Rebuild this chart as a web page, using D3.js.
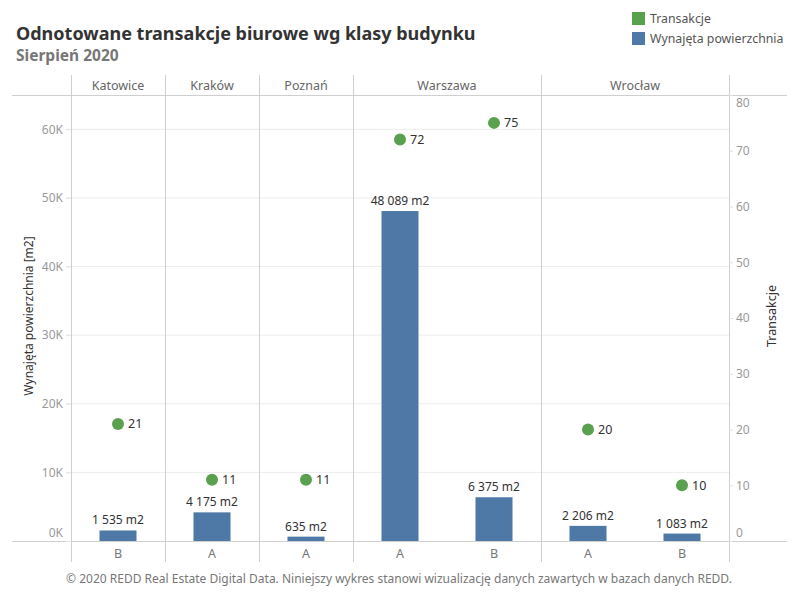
<!DOCTYPE html>
<html>
<head>
<meta charset="utf-8">
<script src="https://cdn.jsdelivr.net/npm/d3@7"></script>
<style>
body{margin:0;background:#fff;}
svg text{font-family:"Noto Sans",sans-serif;}
</style>
</head>
<body>
<svg id="chart" width="800" height="600"></svg>
<script>
// dane
var cities = ["Katowice", "Kraków", "Poznań", "Warszawa", "Wrocław"]
var rowCity = ["Katowice", "Kraków", "Poznań", "Warszawa", "Warszawa", "Wrocław", "Wrocław"]
var rowClass = ["B", "A", "A", "A", "B", "A", "B"]
var area = [1535, 4175, 635, 48089, 6375, 2206, 1083]
var transactions = [21, 11, 11, 72, 75, 20, 10]
var leftTicks = [0, 10000, 20000, 30000, 40000, 50000, 60000]
var rightTicks = [0, 10, 20, 30, 40, 50, 60, 70, 80]

var rows = rowCity.map(function(c, i){
    return {key: c + "|" + rowClass[i], city: c, cls: rowClass[i], area: area[i], tr: transactions[i]}
})

var svg = d3.select("svg#chart")
var top_ = 95, bottom = 541, left = 71, right = 729

var x = d3.scaleBand().domain(rows.map(function(d){ return d.key; })).range([left, right])
var yL = d3.scaleLinear().domain([0, 65000]).range([bottom, top_])
var yR = d3.scaleLinear().domain([0, 80]).range([bottom, top_])

var loc = d3.formatLocale({decimal: ",", thousands: "\u00a0", grouping: [3], currency: ["", ""]})
var fmt = loc.format(",d")

// tytuł
svg.append("text").attr("x", 16).attr("y", 40)
    .attr("font-size", 18).attr("font-weight", "bold").attr("fill", "#333")
    .text("Odnotowane transakcje biurowe wg klasy budynku")
svg.append("text").attr("x", 16).attr("y", 61)
    .attr("font-size", 15.5).attr("font-weight", "bold").attr("fill", "#777")
    .text("Sierpień 2020")

// legenda
var legend = [["Transakcje", "#59a14f"], ["Wynajęta powierzchnia", "#4e79a7"]]
legend.forEach(function(l, i){
    svg.append("rect").attr("x", 632).attr("y", 12 + i*20).attr("width", 13).attr("height", 13).attr("fill", l[1])
    svg.append("text").attr("x", 650).attr("y", 23 + i*20).attr("font-size", 12.3).attr("fill", "#555").text(l[0])
})

// siatka
svg.selectAll("line.grid").data(leftTicks.slice(1)).enter().append("line")
    .attr("class", "grid")
    .attr("x1", 66).attr("x2", right)
    .attr("y1", function(d){ return yL(d); }).attr("y2", function(d){ return yL(d); })
    .attr("stroke", "#ececec").attr("stroke-width", 1)

// nagłówki miast
var cityRange = cities.map(function(c){
    var ks = rows.filter(function(r){ return r.city == c; })
    return {city: c, x0: x(ks[0].key), x1: x(ks[ks.length-1].key) + x.bandwidth()}
})
svg.selectAll("text.city").data(cityRange).enter().append("text")
    .attr("class", "city")
    .attr("x", function(d){ return (d.x0 + d.x1)/2; }).attr("y", 90)
    .attr("text-anchor", "middle").attr("font-size", 12.5).attr("fill", "#666")
    .text(function(d){ return d.city; })

var seps = [left].concat(cityRange.map(function(d){ return d.x1; }))
svg.selectAll("line.sep").data(seps).enter().append("line")
    .attr("class", "sep")
    .attr("x1", function(d){ return Math.round(d) + 0.5; }).attr("x2", function(d){ return Math.round(d) + 0.5; })
    .attr("y1", 75).attr("y2", 562)
    .attr("stroke", "#cfcfcf")

svg.append("line").attr("x1", 12).attr("x2", 787).attr("y1", top_ + 0.5).attr("y2", top_ + 0.5).attr("stroke", "#cfcfcf")
svg.append("line").attr("x1", 12).attr("x2", 787).attr("y1", bottom + 0.5).attr("y2", bottom + 0.5).attr("stroke", "#cfcfcf")

// słupki
var bw = 37
svg.selectAll("rect.bar").data(rows).enter().append("rect")
    .attr("class", "bar")
    .attr("x", function(d){ return x(d.key) + x.bandwidth()/2 - bw/2; })
    .attr("y", function(d){ return yL(d.area); })
    .attr("width", bw)
    .attr("height", function(d){ return bottom - yL(d.area); })
    .attr("fill", "#4e79a7")

svg.selectAll("text.barlabel").data(rows).enter().append("text")
    .attr("class", "barlabel")
    .attr("x", function(d){ return x(d.key) + x.bandwidth()/2; })
    .attr("y", function(d){ return yL(d.area) - 6; })
    .attr("text-anchor", "middle").attr("font-size", 12).attr("fill", "#333")
    .text(function(d){ return fmt(d.area) + " m2"; })

// punkty
svg.selectAll("circle.dot").data(rows).enter().append("circle")
    .attr("class", "dot")
    .attr("cx", function(d){ return x(d.key) + x.bandwidth()/2; })
    .attr("cy", function(d){ return yR(d.tr); })
    .attr("r", 6).attr("fill", "#59a14f")

svg.selectAll("text.dotlabel").data(rows).enter().append("text")
    .attr("class", "dotlabel")
    .attr("x", function(d){ return x(d.key) + x.bandwidth()/2 + 10; })
    .attr("y", function(d){ return yR(d.tr) + 4.5; })
    .attr("font-size", 12.5).attr("fill", "#333")
    .text(function(d){ return d.tr; })

// klasy
svg.selectAll("text.cls").data(rows).enter().append("text")
    .attr("class", "cls")
    .attr("x", function(d){ return x(d.key) + x.bandwidth()/2; }).attr("y", 558)
    .attr("text-anchor", "middle").attr("font-size", 12.5).attr("fill", "#777")
    .text(function(d){ return d.cls; })

// oś lewa
var gl = svg.append("g").attr("transform", "translate(" + left + ",0)")
    .call(d3.axisLeft(yL).tickValues(leftTicks).tickSize(5).tickFormat(function(d){ return (d/1000) + "K"; }))
gl.select(".domain").remove()
gl.selectAll(".tick line").attr("stroke", "#e6e6e6")
gl.selectAll(".tick text").attr("font-size", 12).attr("fill", "#999").attr("font-family", "Noto Sans")
gl.selectAll(".tick").filter(function(d){ return d == 0; }).select("text").attr("dy", "-0.35em")

// oś prawa
var gr = svg.append("g").attr("transform", "translate(" + right + ",0)")
    .call(d3.axisRight(yR).tickValues(rightTicks).tickSize(4))
gr.select(".domain").remove()
gr.selectAll(".tick line").attr("stroke", "#e0e0e0")
gr.selectAll(".tick text").attr("font-size", 12).attr("fill", "#999").attr("font-family", "Noto Sans")
gr.selectAll(".tick").filter(function(d){ return d == 0; }).select("text").attr("dy", "-0.35em")
gr.selectAll(".tick").filter(function(d){ return d == 80; }).select("text").attr("dy", "0.95em")

svg.append("text").attr("transform", "translate(33,316) rotate(-90)")
    .attr("text-anchor", "middle").attr("font-size", 12).attr("fill", "#333")
    .text("Wynajęta powierzchnia [m2]")
svg.append("text").attr("transform", "translate(776,316) rotate(-90)")
    .attr("text-anchor", "middle").attr("font-size", 12.5).attr("fill", "#333")
    .text("Transakcje")

// stopka
svg.append("text").attr("x", 399).attr("y", 583)
    .attr("text-anchor", "middle").attr("font-size", 12).attr("fill", "#777")
    .text("© 2020 REDD Real Estate Digital Data. Niniejszy wykres stanowi wizualizację danych zawartych w bazach danych REDD.")
</script>
</body>
</html>
